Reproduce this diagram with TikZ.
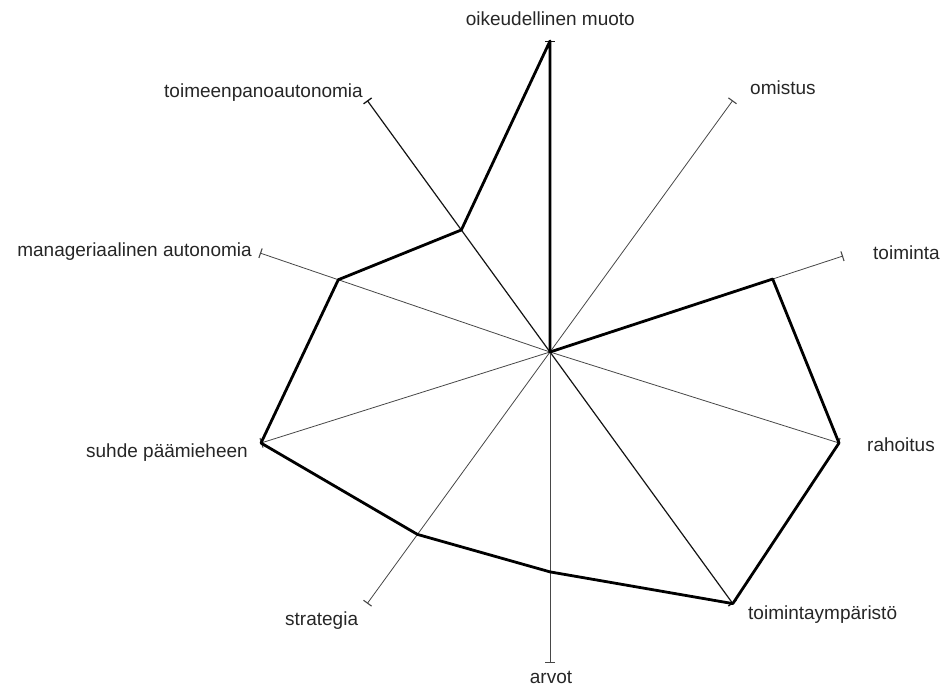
\documentclass[tikz,border=0pt]{standalone}
\usepackage{fontspec}
\setmainfont{Liberation Sans}
\usetikzlibrary{arrows.meta,calc}
\begin{document}
\begin{tikzpicture}[x=1pt,y=1pt,
  axisline/.style={draw=black!72, line width=0.8pt, -{Bar[width=10pt,line width=1.1pt]}},
  axisdark/.style={draw=black!92, line width=1.2pt, -{Bar[width=10pt,line width=1.3pt]}},
  datapoly/.style={draw=black, line width=2.8pt, line join=round},
  lbl/.style={font=\fontsize{19}{21}\selectfont, text=black!85, inner sep=0pt}]
\useasboundingbox (0,0) rectangle (943,-688);
\coordinate (C) at (550,-352);
\def\R{311}
% axis end points
\coordinate (eOik) at ($(C)+(90:\R)$);
\coordinate (eOmi) at ($(C)+(54:\R)$);
\coordinate (eToi) at (843,-256);
\coordinate (eRah) at (839,-443);
\coordinate (eYmp) at ($(C)+(-54:\R)$);
\coordinate (eArv) at ($(C)+(-90:\R)$);
\coordinate (eStr) at ($(C)+(-126:\R)$);
\coordinate (eSuh) at (261,-443);
\coordinate (eMan) at (260,-253);
\coordinate (eTpa) at ($(C)+(126:\R)$);
% axes
\draw[axisdark] (C) -- (eOik);
\draw[axisline] (C) -- (eOmi);
\draw[axisline] (C) -- (eToi);
\draw[axisline] (C) -- (eRah);
\draw[axisdark] (C) -- (eYmp);
\draw[axisline] (C) -- (eArv);
\draw[axisline] (C) -- (eStr);
\draw[axisline] (C) -- (eSuh);
\draw[axisline] (C) -- (eMan);
\draw[axisdark] (C) -- (eTpa);
% data points
\coordinate (dOik) at ($(C)!1.00!(eOik)$);
\coordinate (dOmi) at (C);
\coordinate (dToi) at ($(C)!0.76!(eToi)$);
\coordinate (dRah) at ($(C)!1.00!(eRah)$);
\coordinate (dYmp) at ($(C)!1.00!(eYmp)$);
\coordinate (dArv) at ($(C)!0.707!(eArv)$);
\coordinate (dStr) at ($(C)!0.725!(eStr)$);
\coordinate (dSuh) at ($(C)!1.00!(eSuh)$);
\coordinate (dMan) at ($(C)!0.73!(eMan)$);
\coordinate (dTpa) at ($(C)!0.485!(eTpa)$);
\draw[datapoly] (dOik) -- (dOmi) -- (dToi) -- (dRah) -- (dYmp) -- (dArv) -- (dStr) -- (dSuh) -- (dMan) -- (dTpa) -- cycle;
% labels
\node[lbl, anchor=east] (lOik) at (635,-19) {oikeudellinen muoto};
\node[lbl, anchor=west] (lOmi) at (750,-88) {omistus};
\node[lbl, anchor=west] (lToi) at (873,-253) {toiminta};
\node[lbl, anchor=west] (lRah) at (867,-445) {rahoitus};
\node[lbl, anchor=west] (lYmp) at (748,-615) {toimintaympäristö};
\node[lbl] (lArv) at (551,-677) {arvot};
\node[lbl, anchor=west] (lStr) at (285,-621) {strategia};
\node[lbl, anchor=east] (lSuh) at (248,-453) {suhde päämieheen};
\node[lbl, anchor=east] (lMan) at (252,-252) {manageriaalinen autonomia};
\node[lbl, anchor=east] (lTpa) at (363,-93) {toimeenpanoautonomia};
\end{tikzpicture}
\end{document}
